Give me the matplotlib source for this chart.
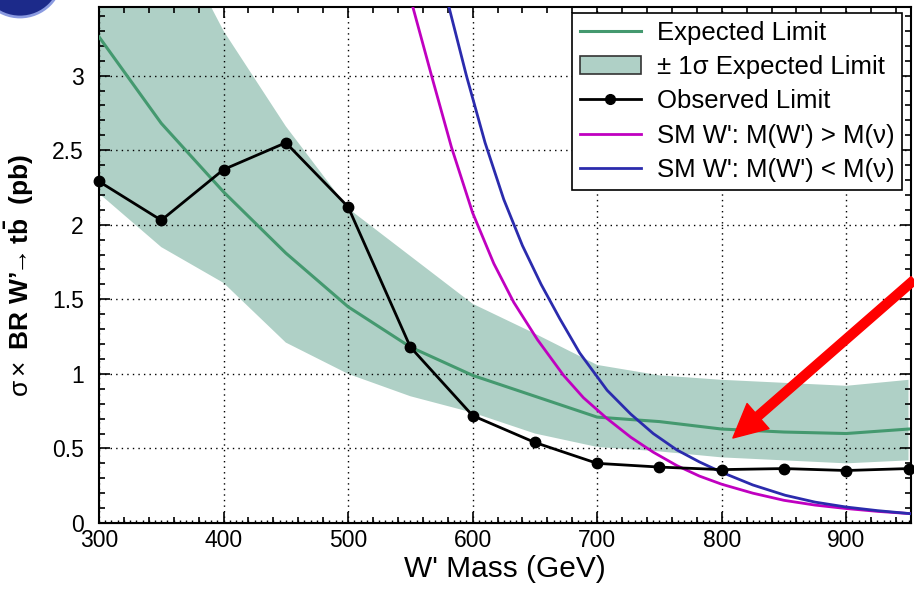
import numpy as np
import matplotlib.pyplot as plt
from matplotlib.patches import Circle, Patch
from matplotlib.lines import Line2D
from matplotlib.ticker import MultipleLocator

plt.rcParams['font.family'] = ['Liberation Sans', 'DejaVu Sans']
plt.rcParams['mathtext.fontset'] = 'custom'
plt.rcParams['mathtext.rm'] = 'Liberation Sans'
plt.rcParams['mathtext.bf'] = 'Liberation Sans:bold'
plt.rcParams['mathtext.it'] = 'Liberation Sans:italic'

# limites attendues / observees
mass = [300, 350, 400, 450, 500, 550, 600, 650, 700, 750, 800, 850, 900, 950]
expected = [3.26, 2.68, 2.22, 1.81, 1.45, 1.18, 0.99, 0.85, 0.71, 0.68, 0.63, 0.61, 0.60, 0.63]
band_up = [4.8, 4.1, 3.3, 2.66, 2.11, 1.79, 1.47, 1.27, 1.06, 0.99, 0.96, 0.94, 0.92, 0.96]
band_dn = [2.21, 1.85, 1.61, 1.21, 1.00, 0.85, 0.74, 0.60, 0.51, 0.48, 0.44, 0.42, 0.40, 0.42]
observed = [2.29, 2.03, 2.37, 2.55, 2.12, 1.18, 0.72, 0.54, 0.40, 0.375, 0.358, 0.365, 0.352, 0.365]

# sections efficaces SM W'
sm_mass_gt = [545, 552, 567, 583, 600, 617, 633, 652, 673, 689, 708, 727, 745, 764, 782, 800,
              825, 850, 875, 900, 925, 951]
sm_gt = [3.75, 3.46, 3.0, 2.52, 2.08, 1.74, 1.48, 1.23, 0.99, 0.84, 0.70, 0.575, 0.475, 0.385,
         0.315, 0.26, 0.20, 0.152, 0.12, 0.097, 0.078, 0.063]
sm_mass_lt = [570, 581, 595, 610, 625, 640, 655, 670, 686, 708, 727, 745, 764, 782, 800,
              825, 851, 875, 900, 925, 951]
sm_lt = [3.85, 3.46, 3.0, 2.55, 2.17, 1.86, 1.60, 1.37, 1.14, 0.89, 0.73, 0.60, 0.49, 0.41, 0.34,
         0.255, 0.186, 0.14, 0.107, 0.083, 0.063]

band_color = '#afd0c6'
exp_color = '#44996f'
mag_color = '#c000c0'
blue_color = '#2b2bad'

fig = plt.figure(figsize=(9.14, 5.91), dpi=100)
ax = fig.add_axes([99/914, 1 - 523/591, 812/914, 516/591])

ax.fill_between(mass, band_dn, band_up, color=band_color, lw=0, zorder=1)
ax.plot(mass, expected, color=exp_color, lw=2.2, zorder=3)
ax.plot(sm_mass_gt, sm_gt, color=mag_color, lw=2.0, zorder=4)
ax.plot(sm_mass_lt, sm_lt, color=blue_color, lw=2.0, zorder=4)
ax.plot(mass, observed, color='black', lw=2.0, marker='o', ms=7.5, zorder=5, clip_on=False)

ax.set_xlim(300, 952)
ax.set_ylim(0, 3.46)
ax.xaxis.set_major_locator(MultipleLocator(100))
ax.xaxis.set_minor_locator(MultipleLocator(20))
ax.yaxis.set_minor_locator(MultipleLocator(0.1))
ax.set_yticks([0, 0.5, 1, 1.5, 2, 2.5, 3])
ax.set_yticklabels(['0', '0.5', '1', '1.5', '2', '2.5', '3'])
ax.tick_params(which='both', direction='in', top=True, right=True, width=1.2)
ax.tick_params(which='major', length=8, labelsize=16.5)
ax.tick_params(which='minor', length=4)
ax.tick_params(axis='y', pad=11)
ax.tick_params(axis='x', pad=4)
for s in ax.spines.values():
    s.set_linewidth(1.5)

# petits ticks tous les 5 GeV en bas
sec = ax.secondary_xaxis('bottom')
sec.set_xticks(np.arange(300, 955, 5))
sec.set_xticklabels([])
sec.tick_params(direction='in', length=2.5, width=1)

ax.grid(True, which='major', color='black', ls=(0, (1, 3)), lw=1.0)
ax.set_axisbelow(False)

ax.set_xlabel("W' Mass (GeV)", fontsize=21.5)
ax.xaxis.set_label_coords(0.5, -0.062)
ax.set_ylabel(r"$\mathrm{\sigma}\times\ \mathbf{BR\ W’\!\!\rightarrow t\bar{b}\ \ (pb)}$", fontsize=19)
ax.yaxis.set_label_coords(-0.077, 0.48)

handles = [
    Line2D([], [], color=exp_color, lw=2.2),
    Patch(facecolor=band_color, edgecolor='#333333', lw=1.2),
    Line2D([], [], color='black', lw=2.0, marker='o', ms=7),
    Line2D([], [], color=mag_color, lw=2.0),
    Line2D([], [], color=blue_color, lw=2.0),
]
labels = ['Expected Limit', '± 1σ Expected Limit', 'Observed Limit',
          "SM W': M(W') > M(ν)", "SM W': M(W') < M(ν)"]
leg = ax.legend(handles, labels, loc='upper right', bbox_to_anchor=(0.989, 0.988),
                borderaxespad=0, fontsize=18.5, fancybox=False, framealpha=1,
                edgecolor='black', handlelength=2.4, labelspacing=0.4,
                handletextpad=0.6, borderpad=0.3)
leg.get_frame().set_linewidth(1.2)
leg.set_zorder(10)

# fleche rouge
ax.annotate('', xy=(809, 0.57), xytext=(914/914, 1 - 280/591),
            textcoords='figure fraction', annotation_clip=False,
            arrowprops=dict(arrowstyle='simple,head_length=1.2,head_width=1.2,tail_width=0.32',
                            color='red', mutation_scale=20, shrinkA=0, shrinkB=0), zorder=11)

# bout du logo en haut a gauche
fig.patches.append(Circle((20, 591 + 25), 42, transform=None, facecolor='#1c2a8a',
                          edgecolor='#8a9ae0', lw=2, figure=fig))

fig.savefig('out.png', dpi=100)
